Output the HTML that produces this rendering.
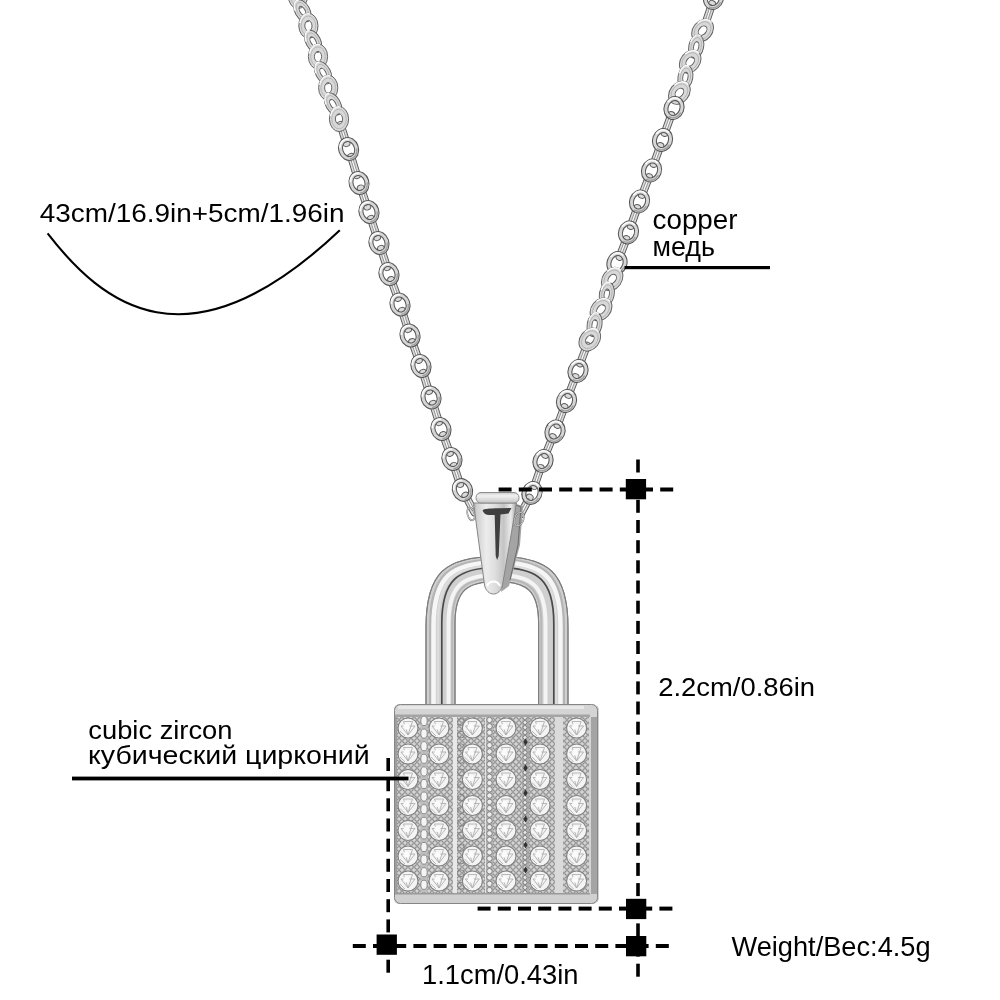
<!DOCTYPE html><html><head><meta charset="utf-8"><style>html,body{margin:0;padding:0;background:#fff;}svg{display:block;}</style></head><body><svg width="1000" height="1000" viewBox="0 0 1000 1000"><rect width="1000" height="1000" fill="#fff"/>
<defs>
<linearGradient id="bailg" x1="473" x2="517" y1="0" y2="0" gradientUnits="userSpaceOnUse">
 <stop offset="0" stop-color="#9a9a9a"/><stop offset="0.08" stop-color="#cfcfcf"/>
 <stop offset="0.3" stop-color="#ececec"/><stop offset="0.5" stop-color="#dedede"/>
 <stop offset="0.7" stop-color="#c4c4c4"/><stop offset="0.86" stop-color="#ececec"/>
 <stop offset="1" stop-color="#9a9a9a"/>
</linearGradient>
<linearGradient id="capg" x1="0" x2="0" y1="492" y2="503" gradientUnits="userSpaceOnUse">
 <stop offset="0" stop-color="#c8c8c8"/><stop offset="0.35" stop-color="#f2f2f2"/>
 <stop offset="1" stop-color="#c4c4c4"/>
</linearGradient>
<filter id="soft" x="-20%" y="-20%" width="140%" height="140%"><feGaussianBlur stdDeviation="0.6"/></filter>
</defs>
<path d="M426.0,705.0 L426.0,627.5 C426.0,572.1 445.9,556.5 497.0,556.5 C548.1,556.5 568.0,572.1 568.0,627.5 L568.0,705.0 L538.6,705.0 L538.6,623.3 C538.6,590.7 526.9,581.5 496.8,581.5 C466.7,581.5 455.0,590.7 455.0,623.3 L455.0,705.0 Z" fill="#cfcfcf" stroke="#858585" stroke-width="1.1"/>
<path d="M430.5,705.0 L430.5,626.5 C430.5,574.6 449.1,560.0 497.0,560.0 C544.9,560.0 563.5,574.6 563.5,626.5 L563.5,705.0" fill="none" stroke="#b4b4b4" stroke-width="3"/>
<path d="M433.5,705.0 L433.5,626.0 C433.5,576.5 451.3,562.5 497.0,562.5 C542.7,562.5 560.5,576.5 560.5,626.0 L560.5,705.0" fill="none" stroke="#f6f6f6" stroke-width="4.5"/>
<path d="M438.0,705.0 L438.0,624.5 C438.0,578.5 454.5,565.5 497.0,565.5 C539.5,565.5 556.0,578.5 556.0,624.5 L556.0,705.0" fill="none" stroke="#dcdcdc" stroke-width="2.5"/>
<path d="M448.5,705.0 L448.5,623.5 C448.5,585.7 462.1,575.0 497.0,575.0 C531.9,575.0 545.5,585.7 545.5,623.5 L545.5,705.0" fill="none" stroke="#f4f4f4" stroke-width="4"/>
<path d="M452.3,705.0 L452.3,623.0 C452.3,588.3 464.8,578.5 496.8,578.5 C528.8,578.5 541.3,588.3 541.3,623.0 L541.3,705.0" fill="none" stroke="#b8b8b8" stroke-width="2"/>
<path d="M441.8,705.0 L441.8,623.5 C441.8,579.8 457.5,567.5 497.8,567.5 C538.1,567.5 553.8,579.8 553.8,623.5 L553.8,705.0" fill="none" stroke="#4a4a4a" stroke-width="1.7"/>
<path d="M426.0,705.0 L426.0,627.5 C426.0,572.1 445.9,556.5 497.0,556.5 C548.1,556.5 568.0,572.1 568.0,627.5 L568.0,705.0 L538.6,705.0 L538.6,623.3 C538.6,590.7 526.9,581.5 496.8,581.5 C466.7,581.5 455.0,590.7 455.0,623.3 L455.0,705.0 Z" fill="none" stroke="#7e7e7e" stroke-width="1.1"/>
<g transform="translate(343.5,134.0) rotate(-17.7)"><rect x="-3.6" y="-13" width="7.2" height="26" rx="3.5" fill="#dadada" stroke="#5a5a5a" stroke-width="0.95"/><rect x="-1.1" y="-8.5" width="2.2" height="17" rx="1.1" fill="#fafafa" stroke="#7a7a7a" stroke-width="0.7"/></g><g transform="translate(354.0,166.0) rotate(-17.0)"><rect x="-3.6" y="-13" width="7.2" height="26" rx="3.5" fill="#dadada" stroke="#5a5a5a" stroke-width="0.95"/><rect x="-1.1" y="-8.5" width="2.2" height="17" rx="1.1" fill="#fafafa" stroke="#7a7a7a" stroke-width="0.7"/></g><g transform="translate(364.0,197.5) rotate(-19.0)"><rect x="-3.6" y="-13" width="7.2" height="26" rx="3.5" fill="#dadada" stroke="#5a5a5a" stroke-width="0.95"/><rect x="-1.1" y="-8.5" width="2.2" height="17" rx="1.1" fill="#fafafa" stroke="#7a7a7a" stroke-width="0.7"/></g><g transform="translate(374.0,228.0) rotate(-17.9)"><rect x="-3.6" y="-13" width="7.2" height="26" rx="3.5" fill="#dadada" stroke="#5a5a5a" stroke-width="0.95"/><rect x="-1.1" y="-8.5" width="2.2" height="17" rx="1.1" fill="#fafafa" stroke="#7a7a7a" stroke-width="0.7"/></g><g transform="translate(384.0,258.0) rotate(-17.9)"><rect x="-3.6" y="-13" width="7.2" height="26" rx="3.5" fill="#dadada" stroke="#5a5a5a" stroke-width="0.95"/><rect x="-1.1" y="-8.5" width="2.2" height="17" rx="1.1" fill="#fafafa" stroke="#7a7a7a" stroke-width="0.7"/></g><g transform="translate(394.5,289.0) rotate(-19.8)"><rect x="-3.6" y="-13" width="7.2" height="26" rx="3.5" fill="#dadada" stroke="#5a5a5a" stroke-width="0.95"/><rect x="-1.1" y="-8.5" width="2.2" height="17" rx="1.1" fill="#fafafa" stroke="#7a7a7a" stroke-width="0.7"/></g><g transform="translate(405.0,320.0) rotate(-17.9)"><rect x="-3.6" y="-13" width="7.2" height="26" rx="3.5" fill="#dadada" stroke="#5a5a5a" stroke-width="0.95"/><rect x="-1.1" y="-8.5" width="2.2" height="17" rx="1.1" fill="#fafafa" stroke="#7a7a7a" stroke-width="0.7"/></g><g transform="translate(415.5,351.0) rotate(-19.8)"><rect x="-3.6" y="-13" width="7.2" height="26" rx="3.5" fill="#dadada" stroke="#5a5a5a" stroke-width="0.95"/><rect x="-1.1" y="-8.5" width="2.2" height="17" rx="1.1" fill="#fafafa" stroke="#7a7a7a" stroke-width="0.7"/></g><g transform="translate(426.0,382.0) rotate(-17.6)"><rect x="-3.6" y="-13" width="7.2" height="26" rx="3.5" fill="#dadada" stroke="#5a5a5a" stroke-width="0.95"/><rect x="-1.1" y="-8.5" width="2.2" height="17" rx="1.1" fill="#fafafa" stroke="#7a7a7a" stroke-width="0.7"/></g><g transform="translate(436.0,413.0) rotate(-17.6)"><rect x="-3.6" y="-13" width="7.2" height="26" rx="3.5" fill="#dadada" stroke="#5a5a5a" stroke-width="0.95"/><rect x="-1.1" y="-8.5" width="2.2" height="17" rx="1.1" fill="#fafafa" stroke="#7a7a7a" stroke-width="0.7"/></g><g transform="translate(446.5,444.0) rotate(-20.1)"><rect x="-3.6" y="-13" width="7.2" height="26" rx="3.5" fill="#dadada" stroke="#5a5a5a" stroke-width="0.95"/><rect x="-1.1" y="-8.5" width="2.2" height="17" rx="1.1" fill="#fafafa" stroke="#7a7a7a" stroke-width="0.7"/></g><g transform="translate(457.0,475.0) rotate(-18.7)"><rect x="-3.6" y="-13" width="7.2" height="26" rx="3.5" fill="#dadada" stroke="#5a5a5a" stroke-width="0.95"/><rect x="-1.1" y="-8.5" width="2.2" height="17" rx="1.1" fill="#fafafa" stroke="#7a7a7a" stroke-width="0.7"/></g><g transform="translate(470.0,504.0) rotate(-28.2)"><rect x="-3.6" y="-13" width="7.2" height="26" rx="3.5" fill="#dadada" stroke="#5a5a5a" stroke-width="0.95"/><rect x="-1.1" y="-8.5" width="2.2" height="17" rx="1.1" fill="#fafafa" stroke="#7a7a7a" stroke-width="0.7"/></g><g transform="translate(298.0,-4.0) rotate(-16.6)"><g transform="rotate(18)"><path d="M-9.60,0.00 a9.6,12.6 0 1,0 19.20,0 a9.6,12.6 0 1,0 -19.20,0 Z M-3.60,0.00 a3.6,5.2 0 1,0 7.20,0 a3.6,5.2 0 1,0 -7.20,0 Z " fill="#d8d8d8" fill-rule="evenodd" stroke="#5e5e5e" stroke-width="0.95"/><path d="M-7.30,0.00 a7.3,9.8 0 1,0 14.60,0 a7.3,9.8 0 1,0 -14.60,0 Z " fill="none" stroke="#a0a0a0" stroke-width="0.6"/><path d="M-8.6,-3 A8.6,11.6 0 0,1 2,-11.799999999999999" stroke="#fafafa" stroke-width="1.4" fill="none"/></g></g><g transform="translate(302.4,10.8) rotate(-19.2)"><g transform="rotate(-10)"><path d="M-7.40,0.00 a7.4,12.0 0 1,0 14.80,0 a7.4,12.0 0 1,0 -14.80,0 Z M-2.60,0.00 a2.6,5.0 0 1,0 5.20,0 a2.6,5.0 0 1,0 -5.20,0 Z " fill="#d8d8d8" fill-rule="evenodd" stroke="#5e5e5e" stroke-width="0.95"/><path d="M-5.10,0.00 a5.1000000000000005,9.2 0 1,0 10.20,0 a5.1000000000000005,9.2 0 1,0 -10.20,0 Z " fill="none" stroke="#a0a0a0" stroke-width="0.6"/><path d="M-6.4,-3 A6.4,11.0 0 0,1 2,-11.2" stroke="#fafafa" stroke-width="1.4" fill="none"/></g></g><g transform="translate(308.4,25.8) rotate(-19.4)"><g transform="rotate(18)"><path d="M-9.60,0.00 a9.6,12.6 0 1,0 19.20,0 a9.6,12.6 0 1,0 -19.20,0 Z M-3.60,0.00 a3.6,5.2 0 1,0 7.20,0 a3.6,5.2 0 1,0 -7.20,0 Z " fill="#d8d8d8" fill-rule="evenodd" stroke="#5e5e5e" stroke-width="0.95"/><path d="M-7.30,0.00 a7.3,9.8 0 1,0 14.60,0 a7.3,9.8 0 1,0 -14.60,0 Z " fill="none" stroke="#a0a0a0" stroke-width="0.6"/><path d="M-8.6,-3 A8.6,11.6 0 0,1 2,-11.799999999999999" stroke="#fafafa" stroke-width="1.4" fill="none"/></g></g><g transform="translate(313.2,41.4) rotate(-17.3)"><g transform="rotate(-10)"><path d="M-7.40,0.00 a7.4,12.0 0 1,0 14.80,0 a7.4,12.0 0 1,0 -14.80,0 Z M-2.60,0.00 a2.6,5.0 0 1,0 5.20,0 a2.6,5.0 0 1,0 -5.20,0 Z " fill="#d8d8d8" fill-rule="evenodd" stroke="#5e5e5e" stroke-width="0.95"/><path d="M-5.10,0.00 a5.1000000000000005,9.2 0 1,0 10.20,0 a5.1000000000000005,9.2 0 1,0 -10.20,0 Z " fill="none" stroke="#a0a0a0" stroke-width="0.6"/><path d="M-6.4,-3 A6.4,11.0 0 0,1 2,-11.2" stroke="#fafafa" stroke-width="1.4" fill="none"/></g></g><g transform="translate(318.0,56.6) rotate(-17.5)"><g transform="rotate(18)"><path d="M-9.60,0.00 a9.6,12.6 0 1,0 19.20,0 a9.6,12.6 0 1,0 -19.20,0 Z M-3.60,0.00 a3.6,5.2 0 1,0 7.20,0 a3.6,5.2 0 1,0 -7.20,0 Z " fill="#d8d8d8" fill-rule="evenodd" stroke="#5e5e5e" stroke-width="0.95"/><path d="M-7.30,0.00 a7.3,9.8 0 1,0 14.60,0 a7.3,9.8 0 1,0 -14.60,0 Z " fill="none" stroke="#a0a0a0" stroke-width="0.6"/><path d="M-8.6,-3 A8.6,11.6 0 0,1 2,-11.799999999999999" stroke="#fafafa" stroke-width="1.4" fill="none"/></g></g><g transform="translate(323.1,72.8) rotate(-18.1)"><g transform="rotate(-10)"><path d="M-7.40,0.00 a7.4,12.0 0 1,0 14.80,0 a7.4,12.0 0 1,0 -14.80,0 Z M-2.60,0.00 a2.6,5.0 0 1,0 5.20,0 a2.6,5.0 0 1,0 -5.20,0 Z " fill="#d8d8d8" fill-rule="evenodd" stroke="#5e5e5e" stroke-width="0.95"/><path d="M-5.10,0.00 a5.1000000000000005,9.2 0 1,0 10.20,0 a5.1000000000000005,9.2 0 1,0 -10.20,0 Z " fill="none" stroke="#a0a0a0" stroke-width="0.6"/><path d="M-6.4,-3 A6.4,11.0 0 0,1 2,-11.2" stroke="#fafafa" stroke-width="1.4" fill="none"/></g></g><g transform="translate(328.2,87.8) rotate(-17.6)"><g transform="rotate(18)"><path d="M-9.60,0.00 a9.6,12.6 0 1,0 19.20,0 a9.6,12.6 0 1,0 -19.20,0 Z M-3.60,0.00 a3.6,5.2 0 1,0 7.20,0 a3.6,5.2 0 1,0 -7.20,0 Z " fill="#d8d8d8" fill-rule="evenodd" stroke="#5e5e5e" stroke-width="0.95"/><path d="M-7.30,0.00 a7.3,9.8 0 1,0 14.60,0 a7.3,9.8 0 1,0 -14.60,0 Z " fill="none" stroke="#a0a0a0" stroke-width="0.6"/><path d="M-8.6,-3 A8.6,11.6 0 0,1 2,-11.799999999999999" stroke="#fafafa" stroke-width="1.4" fill="none"/></g></g><g transform="translate(333.0,104.0) rotate(-19.1)"><g transform="rotate(-10)"><path d="M-7.40,0.00 a7.4,12.0 0 1,0 14.80,0 a7.4,12.0 0 1,0 -14.80,0 Z M-2.60,0.00 a2.6,5.0 0 1,0 5.20,0 a2.6,5.0 0 1,0 -5.20,0 Z " fill="#d8d8d8" fill-rule="evenodd" stroke="#5e5e5e" stroke-width="0.95"/><path d="M-5.10,0.00 a5.1000000000000005,9.2 0 1,0 10.20,0 a5.1000000000000005,9.2 0 1,0 -10.20,0 Z " fill="none" stroke="#a0a0a0" stroke-width="0.6"/><path d="M-6.4,-3 A6.4,11.0 0 0,1 2,-11.2" stroke="#fafafa" stroke-width="1.4" fill="none"/></g></g><g transform="translate(339.0,119.0) rotate(-19.3)"><g transform="rotate(18)"><path d="M-9.60,0.00 a9.6,12.6 0 1,0 19.20,0 a9.6,12.6 0 1,0 -19.20,0 Z M-3.60,0.00 a3.6,5.2 0 1,0 7.20,0 a3.6,5.2 0 1,0 -7.20,0 Z " fill="#d8d8d8" fill-rule="evenodd" stroke="#5e5e5e" stroke-width="0.95"/><path d="M-7.30,0.00 a7.3,9.8 0 1,0 14.60,0 a7.3,9.8 0 1,0 -14.60,0 Z " fill="none" stroke="#a0a0a0" stroke-width="0.6"/><path d="M-8.6,-3 A8.6,11.6 0 0,1 2,-11.799999999999999" stroke="#fafafa" stroke-width="1.4" fill="none"/></g></g><g transform="translate(348.6,149.0) rotate(-18.2)"><path d="M-9.90,0.00 a9.9,11.6 0 1,0 19.80,0 a9.9,11.6 0 1,0 -19.80,0 Z M-5.90,0.00 a5.9,7.7 0 1,0 11.80,0 a5.9,7.7 0 1,0 -11.80,0 Z " fill="#d6d6d6" fill-rule="evenodd" stroke="#555555" stroke-width="1.05"/><path d="M-7.9,-3.5 A7.9,9.6 0 0,1 3.3,-9.1" stroke="#fafafa" stroke-width="1.7" fill="none"/><path d="M8.0,2 A8.0,9.6 0 0,1 -2,9.7" stroke="#a0a0a0" stroke-width="1.4" fill="none"/></g><g transform="translate(359.0,183.0) rotate(-17.6)"><path d="M-9.90,0.00 a9.9,11.6 0 1,0 19.80,0 a9.9,11.6 0 1,0 -19.80,0 Z M-5.90,0.00 a5.9,7.7 0 1,0 11.80,0 a5.9,7.7 0 1,0 -11.80,0 Z " fill="#d6d6d6" fill-rule="evenodd" stroke="#555555" stroke-width="1.05"/><path d="M-7.9,-3.5 A7.9,9.6 0 0,1 3.3,-9.1" stroke="#fafafa" stroke-width="1.7" fill="none"/><path d="M8.0,2 A8.0,9.6 0 0,1 -2,9.7" stroke="#a0a0a0" stroke-width="1.4" fill="none"/></g><g transform="translate(369.0,212.0) rotate(-18.2)"><path d="M-9.90,0.00 a9.9,11.6 0 1,0 19.80,0 a9.9,11.6 0 1,0 -19.80,0 Z M-5.90,0.00 a5.9,7.7 0 1,0 11.80,0 a5.9,7.7 0 1,0 -11.80,0 Z " fill="#d6d6d6" fill-rule="evenodd" stroke="#555555" stroke-width="1.05"/><path d="M-7.9,-3.5 A7.9,9.6 0 0,1 3.3,-9.1" stroke="#fafafa" stroke-width="1.7" fill="none"/><path d="M8.0,2 A8.0,9.6 0 0,1 -2,9.7" stroke="#a0a0a0" stroke-width="1.4" fill="none"/></g><g transform="translate(379.0,243.0) rotate(-18.4)"><path d="M-9.90,0.00 a9.9,11.6 0 1,0 19.80,0 a9.9,11.6 0 1,0 -19.80,0 Z M-5.90,0.00 a5.9,7.7 0 1,0 11.80,0 a5.9,7.7 0 1,0 -11.80,0 Z " fill="#d6d6d6" fill-rule="evenodd" stroke="#555555" stroke-width="1.05"/><path d="M-7.9,-3.5 A7.9,9.6 0 0,1 3.3,-9.1" stroke="#fafafa" stroke-width="1.7" fill="none"/><path d="M8.0,2 A8.0,9.6 0 0,1 -2,9.7" stroke="#a0a0a0" stroke-width="1.4" fill="none"/></g><g transform="translate(389.0,274.0) rotate(-18.7)"><path d="M-9.90,0.00 a9.9,11.6 0 1,0 19.80,0 a9.9,11.6 0 1,0 -19.80,0 Z M-5.90,0.00 a5.9,7.7 0 1,0 11.80,0 a5.9,7.7 0 1,0 -11.80,0 Z " fill="#d6d6d6" fill-rule="evenodd" stroke="#555555" stroke-width="1.05"/><path d="M-7.9,-3.5 A7.9,9.6 0 0,1 3.3,-9.1" stroke="#fafafa" stroke-width="1.7" fill="none"/><path d="M8.0,2 A8.0,9.6 0 0,1 -2,9.7" stroke="#a0a0a0" stroke-width="1.4" fill="none"/></g><g transform="translate(400.0,304.5) rotate(-18.7)"><path d="M-9.90,0.00 a9.9,11.6 0 1,0 19.80,0 a9.9,11.6 0 1,0 -19.80,0 Z M-5.90,0.00 a5.9,7.7 0 1,0 11.80,0 a5.9,7.7 0 1,0 -11.80,0 Z " fill="#d6d6d6" fill-rule="evenodd" stroke="#555555" stroke-width="1.05"/><path d="M-7.9,-3.5 A7.9,9.6 0 0,1 3.3,-9.1" stroke="#fafafa" stroke-width="1.7" fill="none"/><path d="M8.0,2 A8.0,9.6 0 0,1 -2,9.7" stroke="#a0a0a0" stroke-width="1.4" fill="none"/></g><g transform="translate(410.0,335.5) rotate(-18.7)"><path d="M-9.90,0.00 a9.9,11.6 0 1,0 19.80,0 a9.9,11.6 0 1,0 -19.80,0 Z M-5.90,0.00 a5.9,7.7 0 1,0 11.80,0 a5.9,7.7 0 1,0 -11.80,0 Z " fill="#d6d6d6" fill-rule="evenodd" stroke="#555555" stroke-width="1.05"/><path d="M-7.9,-3.5 A7.9,9.6 0 0,1 3.3,-9.1" stroke="#fafafa" stroke-width="1.7" fill="none"/><path d="M8.0,2 A8.0,9.6 0 0,1 -2,9.7" stroke="#a0a0a0" stroke-width="1.4" fill="none"/></g><g transform="translate(421.0,366.0) rotate(-18.7)"><path d="M-9.90,0.00 a9.9,11.6 0 1,0 19.80,0 a9.9,11.6 0 1,0 -19.80,0 Z M-5.90,0.00 a5.9,7.7 0 1,0 11.80,0 a5.9,7.7 0 1,0 -11.80,0 Z " fill="#d6d6d6" fill-rule="evenodd" stroke="#555555" stroke-width="1.05"/><path d="M-7.9,-3.5 A7.9,9.6 0 0,1 3.3,-9.1" stroke="#fafafa" stroke-width="1.7" fill="none"/><path d="M8.0,2 A8.0,9.6 0 0,1 -2,9.7" stroke="#a0a0a0" stroke-width="1.4" fill="none"/></g><g transform="translate(431.0,397.5) rotate(-17.9)"><path d="M-9.90,0.00 a9.9,11.6 0 1,0 19.80,0 a9.9,11.6 0 1,0 -19.80,0 Z M-5.90,0.00 a5.9,7.7 0 1,0 11.80,0 a5.9,7.7 0 1,0 -11.80,0 Z " fill="#d6d6d6" fill-rule="evenodd" stroke="#555555" stroke-width="1.05"/><path d="M-7.9,-3.5 A7.9,9.6 0 0,1 3.3,-9.1" stroke="#fafafa" stroke-width="1.7" fill="none"/><path d="M8.0,2 A8.0,9.6 0 0,1 -2,9.7" stroke="#a0a0a0" stroke-width="1.4" fill="none"/></g><g transform="translate(441.0,429.0) rotate(-18.7)"><path d="M-9.90,0.00 a9.9,11.6 0 1,0 19.80,0 a9.9,11.6 0 1,0 -19.80,0 Z M-5.90,0.00 a5.9,7.7 0 1,0 11.80,0 a5.9,7.7 0 1,0 -11.80,0 Z " fill="#d6d6d6" fill-rule="evenodd" stroke="#555555" stroke-width="1.05"/><path d="M-7.9,-3.5 A7.9,9.6 0 0,1 3.3,-9.1" stroke="#fafafa" stroke-width="1.7" fill="none"/><path d="M8.0,2 A8.0,9.6 0 0,1 -2,9.7" stroke="#a0a0a0" stroke-width="1.4" fill="none"/></g><g transform="translate(452.0,459.0) rotate(-18.7)"><path d="M-9.90,0.00 a9.9,11.6 0 1,0 19.80,0 a9.9,11.6 0 1,0 -19.80,0 Z M-5.90,0.00 a5.9,7.7 0 1,0 11.80,0 a5.9,7.7 0 1,0 -11.80,0 Z " fill="#d6d6d6" fill-rule="evenodd" stroke="#555555" stroke-width="1.05"/><path d="M-7.9,-3.5 A7.9,9.6 0 0,1 3.3,-9.1" stroke="#fafafa" stroke-width="1.7" fill="none"/><path d="M8.0,2 A8.0,9.6 0 0,1 -2,9.7" stroke="#a0a0a0" stroke-width="1.4" fill="none"/></g><g transform="translate(462.5,490.0) rotate(-24.1)"><path d="M-9.90,0.00 a9.9,11.6 0 1,0 19.80,0 a9.9,11.6 0 1,0 -19.80,0 Z M-5.90,0.00 a5.9,7.7 0 1,0 11.80,0 a5.9,7.7 0 1,0 -11.80,0 Z " fill="#d6d6d6" fill-rule="evenodd" stroke="#555555" stroke-width="1.05"/><path d="M-7.9,-3.5 A7.9,9.6 0 0,1 3.3,-9.1" stroke="#fafafa" stroke-width="1.7" fill="none"/><path d="M8.0,2 A8.0,9.6 0 0,1 -2,9.7" stroke="#a0a0a0" stroke-width="1.4" fill="none"/></g><g transform="translate(709.0,13.0) rotate(18.5)"><rect x="-3.6" y="-13" width="7.2" height="26" rx="3.5" fill="#dadada" stroke="#5a5a5a" stroke-width="0.95"/><rect x="-1.1" y="-8.5" width="2.2" height="17" rx="1.1" fill="#fafafa" stroke="#7a7a7a" stroke-width="0.7"/></g><g transform="translate(668.0,124.0) rotate(19.8)"><rect x="-3.6" y="-13" width="7.2" height="26" rx="3.5" fill="#dadada" stroke="#5a5a5a" stroke-width="0.95"/><rect x="-1.1" y="-8.5" width="2.2" height="17" rx="1.1" fill="#fafafa" stroke="#7a7a7a" stroke-width="0.7"/></g><g transform="translate(657.0,155.0) rotate(19.8)"><rect x="-3.6" y="-13" width="7.2" height="26" rx="3.5" fill="#dadada" stroke="#5a5a5a" stroke-width="0.95"/><rect x="-1.1" y="-8.5" width="2.2" height="17" rx="1.1" fill="#fafafa" stroke="#7a7a7a" stroke-width="0.7"/></g><g transform="translate(645.5,186.0) rotate(21.2)"><rect x="-3.6" y="-13" width="7.2" height="26" rx="3.5" fill="#dadada" stroke="#5a5a5a" stroke-width="0.95"/><rect x="-1.1" y="-8.5" width="2.2" height="17" rx="1.1" fill="#fafafa" stroke="#7a7a7a" stroke-width="0.7"/></g><g transform="translate(634.0,217.0) rotate(19.5)"><rect x="-3.6" y="-13" width="7.2" height="26" rx="3.5" fill="#dadada" stroke="#5a5a5a" stroke-width="0.95"/><rect x="-1.1" y="-8.5" width="2.2" height="17" rx="1.1" fill="#fafafa" stroke="#7a7a7a" stroke-width="0.7"/></g><g transform="translate(623.0,248.0) rotate(20.7)"><rect x="-3.6" y="-13" width="7.2" height="26" rx="3.5" fill="#dadada" stroke="#5a5a5a" stroke-width="0.95"/><rect x="-1.1" y="-8.5" width="2.2" height="17" rx="1.1" fill="#fafafa" stroke="#7a7a7a" stroke-width="0.7"/></g><g transform="translate(583.5,354.5) rotate(20.6)"><rect x="-3.6" y="-13" width="7.2" height="26" rx="3.5" fill="#dadada" stroke="#5a5a5a" stroke-width="0.95"/><rect x="-1.1" y="-8.5" width="2.2" height="17" rx="1.1" fill="#fafafa" stroke="#7a7a7a" stroke-width="0.7"/></g><g transform="translate(572.0,386.0) rotate(21.0)"><rect x="-3.6" y="-13" width="7.2" height="26" rx="3.5" fill="#dadada" stroke="#5a5a5a" stroke-width="0.95"/><rect x="-1.1" y="-8.5" width="2.2" height="17" rx="1.1" fill="#fafafa" stroke="#7a7a7a" stroke-width="0.7"/></g><g transform="translate(561.0,416.0) rotate(20.7)"><rect x="-3.6" y="-13" width="7.2" height="26" rx="3.5" fill="#dadada" stroke="#5a5a5a" stroke-width="0.95"/><rect x="-1.1" y="-8.5" width="2.2" height="17" rx="1.1" fill="#fafafa" stroke="#7a7a7a" stroke-width="0.7"/></g><g transform="translate(549.0,446.0) rotate(22.1)"><rect x="-3.6" y="-13" width="7.2" height="26" rx="3.5" fill="#dadada" stroke="#5a5a5a" stroke-width="0.95"/><rect x="-1.1" y="-8.5" width="2.2" height="17" rx="1.1" fill="#fafafa" stroke="#7a7a7a" stroke-width="0.7"/></g><g transform="translate(537.5,477.0) rotate(19.0)"><rect x="-3.6" y="-13" width="7.2" height="26" rx="3.5" fill="#dadada" stroke="#5a5a5a" stroke-width="0.95"/><rect x="-1.1" y="-8.5" width="2.2" height="17" rx="1.1" fill="#fafafa" stroke="#7a7a7a" stroke-width="0.7"/></g><g transform="translate(525.0,506.0) rotate(28.3)"><rect x="-3.6" y="-13" width="7.2" height="26" rx="3.5" fill="#dadada" stroke="#5a5a5a" stroke-width="0.95"/><rect x="-1.1" y="-8.5" width="2.2" height="17" rx="1.1" fill="#fafafa" stroke="#7a7a7a" stroke-width="0.7"/></g><g transform="translate(713.5,-2.0) rotate(16.7)"><path d="M-9.90,0.00 a9.9,11.6 0 1,0 19.80,0 a9.9,11.6 0 1,0 -19.80,0 Z M-5.90,0.00 a5.9,7.7 0 1,0 11.80,0 a5.9,7.7 0 1,0 -11.80,0 Z " fill="#d6d6d6" fill-rule="evenodd" stroke="#555555" stroke-width="1.05"/><path d="M-7.9,-3.5 A7.9,9.6 0 0,1 3.3,-9.1" stroke="#fafafa" stroke-width="1.7" fill="none"/><path d="M8.0,2 A8.0,9.6 0 0,1 -2,9.7" stroke="#a0a0a0" stroke-width="1.4" fill="none"/></g><g transform="translate(702.6,30.6) rotate(20.9)"><g transform="rotate(18)"><path d="M-9.60,0.00 a9.6,12.6 0 1,0 19.20,0 a9.6,12.6 0 1,0 -19.20,0 Z M-3.60,0.00 a3.6,5.2 0 1,0 7.20,0 a3.6,5.2 0 1,0 -7.20,0 Z " fill="#d8d8d8" fill-rule="evenodd" stroke="#5e5e5e" stroke-width="0.95"/><path d="M-7.30,0.00 a7.3,9.8 0 1,0 14.60,0 a7.3,9.8 0 1,0 -14.60,0 Z " fill="none" stroke="#a0a0a0" stroke-width="0.6"/><path d="M-8.6,-3 A8.6,11.6 0 0,1 2,-11.799999999999999" stroke="#fafafa" stroke-width="1.4" fill="none"/></g></g><g transform="translate(696.2,46.6) rotate(21.8)"><g transform="rotate(-10)"><path d="M-7.40,0.00 a7.4,12.0 0 1,0 14.80,0 a7.4,12.0 0 1,0 -14.80,0 Z M-2.60,0.00 a2.6,5.0 0 1,0 5.20,0 a2.6,5.0 0 1,0 -5.20,0 Z " fill="#d8d8d8" fill-rule="evenodd" stroke="#5e5e5e" stroke-width="0.95"/><path d="M-5.10,0.00 a5.1000000000000005,9.2 0 1,0 10.20,0 a5.1000000000000005,9.2 0 1,0 -10.20,0 Z " fill="none" stroke="#a0a0a0" stroke-width="0.6"/><path d="M-6.4,-3 A6.4,11.0 0 0,1 2,-11.2" stroke="#fafafa" stroke-width="1.4" fill="none"/></g></g><g transform="translate(690.2,61.6) rotate(19.4)"><g transform="rotate(18)"><path d="M-9.60,0.00 a9.6,12.6 0 1,0 19.20,0 a9.6,12.6 0 1,0 -19.20,0 Z M-3.60,0.00 a3.6,5.2 0 1,0 7.20,0 a3.6,5.2 0 1,0 -7.20,0 Z " fill="#d8d8d8" fill-rule="evenodd" stroke="#5e5e5e" stroke-width="0.95"/><path d="M-7.30,0.00 a7.3,9.8 0 1,0 14.60,0 a7.3,9.8 0 1,0 -14.60,0 Z " fill="none" stroke="#a0a0a0" stroke-width="0.6"/><path d="M-8.6,-3 A8.6,11.6 0 0,1 2,-11.799999999999999" stroke="#fafafa" stroke-width="1.4" fill="none"/></g></g><g transform="translate(685.4,77.2) rotate(19.1)"><g transform="rotate(-10)"><path d="M-7.40,0.00 a7.4,12.0 0 1,0 14.80,0 a7.4,12.0 0 1,0 -14.80,0 Z M-2.60,0.00 a2.6,5.0 0 1,0 5.20,0 a2.6,5.0 0 1,0 -5.20,0 Z " fill="#d8d8d8" fill-rule="evenodd" stroke="#5e5e5e" stroke-width="0.95"/><path d="M-5.10,0.00 a5.1000000000000005,9.2 0 1,0 10.20,0 a5.1000000000000005,9.2 0 1,0 -10.20,0 Z " fill="none" stroke="#a0a0a0" stroke-width="0.6"/><path d="M-6.4,-3 A6.4,11.0 0 0,1 2,-11.2" stroke="#fafafa" stroke-width="1.4" fill="none"/></g></g><g transform="translate(679.4,92.8) rotate(20.3)"><g transform="rotate(18)"><path d="M-9.60,0.00 a9.6,12.6 0 1,0 19.20,0 a9.6,12.6 0 1,0 -19.20,0 Z M-3.60,0.00 a3.6,5.2 0 1,0 7.20,0 a3.6,5.2 0 1,0 -7.20,0 Z " fill="#d8d8d8" fill-rule="evenodd" stroke="#5e5e5e" stroke-width="0.95"/><path d="M-7.30,0.00 a7.3,9.8 0 1,0 14.60,0 a7.3,9.8 0 1,0 -14.60,0 Z " fill="none" stroke="#a0a0a0" stroke-width="0.6"/><path d="M-8.6,-3 A8.6,11.6 0 0,1 2,-11.799999999999999" stroke="#fafafa" stroke-width="1.4" fill="none"/></g></g><g transform="translate(674.0,108.0) rotate(20.1)"><path d="M-9.90,0.00 a9.9,11.6 0 1,0 19.80,0 a9.9,11.6 0 1,0 -19.80,0 Z M-5.90,0.00 a5.9,7.7 0 1,0 11.80,0 a5.9,7.7 0 1,0 -11.80,0 Z " fill="#d6d6d6" fill-rule="evenodd" stroke="#555555" stroke-width="1.05"/><path d="M-7.9,-3.5 A7.9,9.6 0 0,1 3.3,-9.1" stroke="#fafafa" stroke-width="1.7" fill="none"/><path d="M8.0,2 A8.0,9.6 0 0,1 -2,9.7" stroke="#a0a0a0" stroke-width="1.4" fill="none"/></g><g transform="translate(662.5,140.0) rotate(19.5)"><path d="M-9.90,0.00 a9.9,11.6 0 1,0 19.80,0 a9.9,11.6 0 1,0 -19.80,0 Z M-5.90,0.00 a5.9,7.7 0 1,0 11.80,0 a5.9,7.7 0 1,0 -11.80,0 Z " fill="#d6d6d6" fill-rule="evenodd" stroke="#555555" stroke-width="1.05"/><path d="M-7.9,-3.5 A7.9,9.6 0 0,1 3.3,-9.1" stroke="#fafafa" stroke-width="1.7" fill="none"/><path d="M8.0,2 A8.0,9.6 0 0,1 -2,9.7" stroke="#a0a0a0" stroke-width="1.4" fill="none"/></g><g transform="translate(651.5,170.5) rotate(20.4)"><path d="M-9.90,0.00 a9.9,11.6 0 1,0 19.80,0 a9.9,11.6 0 1,0 -19.80,0 Z M-5.90,0.00 a5.9,7.7 0 1,0 11.80,0 a5.9,7.7 0 1,0 -11.80,0 Z " fill="#d6d6d6" fill-rule="evenodd" stroke="#555555" stroke-width="1.05"/><path d="M-7.9,-3.5 A7.9,9.6 0 0,1 3.3,-9.1" stroke="#fafafa" stroke-width="1.7" fill="none"/><path d="M8.0,2 A8.0,9.6 0 0,1 -2,9.7" stroke="#a0a0a0" stroke-width="1.4" fill="none"/></g><g transform="translate(639.5,201.5) rotate(20.4)"><path d="M-9.90,0.00 a9.9,11.6 0 1,0 19.80,0 a9.9,11.6 0 1,0 -19.80,0 Z M-5.90,0.00 a5.9,7.7 0 1,0 11.80,0 a5.9,7.7 0 1,0 -11.80,0 Z " fill="#d6d6d6" fill-rule="evenodd" stroke="#555555" stroke-width="1.05"/><path d="M-7.9,-3.5 A7.9,9.6 0 0,1 3.3,-9.1" stroke="#fafafa" stroke-width="1.7" fill="none"/><path d="M8.0,2 A8.0,9.6 0 0,1 -2,9.7" stroke="#a0a0a0" stroke-width="1.4" fill="none"/></g><g transform="translate(628.5,232.5) rotate(19.5)"><path d="M-9.90,0.00 a9.9,11.6 0 1,0 19.80,0 a9.9,11.6 0 1,0 -19.80,0 Z M-5.90,0.00 a5.9,7.7 0 1,0 11.80,0 a5.9,7.7 0 1,0 -11.80,0 Z " fill="#d6d6d6" fill-rule="evenodd" stroke="#555555" stroke-width="1.05"/><path d="M-7.9,-3.5 A7.9,9.6 0 0,1 3.3,-9.1" stroke="#fafafa" stroke-width="1.7" fill="none"/><path d="M8.0,2 A8.0,9.6 0 0,1 -2,9.7" stroke="#a0a0a0" stroke-width="1.4" fill="none"/></g><g transform="translate(617.0,263.0) rotate(19.2)"><path d="M-9.90,0.00 a9.9,11.6 0 1,0 19.80,0 a9.9,11.6 0 1,0 -19.80,0 Z M-5.90,0.00 a5.9,7.7 0 1,0 11.80,0 a5.9,7.7 0 1,0 -11.80,0 Z " fill="#d6d6d6" fill-rule="evenodd" stroke="#555555" stroke-width="1.05"/><path d="M-7.9,-3.5 A7.9,9.6 0 0,1 3.3,-9.1" stroke="#fafafa" stroke-width="1.7" fill="none"/><path d="M8.0,2 A8.0,9.6 0 0,1 -2,9.7" stroke="#a0a0a0" stroke-width="1.4" fill="none"/></g><g transform="translate(612.2,279.0) rotate(18.2)"><g transform="rotate(18)"><path d="M-9.60,0.00 a9.6,12.6 0 1,0 19.20,0 a9.6,12.6 0 1,0 -19.20,0 Z M-3.60,0.00 a3.6,5.2 0 1,0 7.20,0 a3.6,5.2 0 1,0 -7.20,0 Z " fill="#d8d8d8" fill-rule="evenodd" stroke="#5e5e5e" stroke-width="0.95"/><path d="M-7.30,0.00 a7.3,9.8 0 1,0 14.60,0 a7.3,9.8 0 1,0 -14.60,0 Z " fill="none" stroke="#a0a0a0" stroke-width="0.6"/><path d="M-8.6,-3 A8.6,11.6 0 0,1 2,-11.799999999999999" stroke="#fafafa" stroke-width="1.4" fill="none"/></g></g><g transform="translate(606.8,294.0) rotate(20.2)"><g transform="rotate(-10)"><path d="M-7.40,0.00 a7.4,12.0 0 1,0 14.80,0 a7.4,12.0 0 1,0 -14.80,0 Z M-2.60,0.00 a2.6,5.0 0 1,0 5.20,0 a2.6,5.0 0 1,0 -5.20,0 Z " fill="#d8d8d8" fill-rule="evenodd" stroke="#5e5e5e" stroke-width="0.95"/><path d="M-5.10,0.00 a5.1000000000000005,9.2 0 1,0 10.20,0 a5.1000000000000005,9.2 0 1,0 -10.20,0 Z " fill="none" stroke="#a0a0a0" stroke-width="0.6"/><path d="M-6.4,-3 A6.4,11.0 0 0,1 2,-11.2" stroke="#fafafa" stroke-width="1.4" fill="none"/></g></g><g transform="translate(601.0,309.4) rotate(21.7)"><g transform="rotate(18)"><path d="M-9.60,0.00 a9.6,12.6 0 1,0 19.20,0 a9.6,12.6 0 1,0 -19.20,0 Z M-3.60,0.00 a3.6,5.2 0 1,0 7.20,0 a3.6,5.2 0 1,0 -7.20,0 Z " fill="#d8d8d8" fill-rule="evenodd" stroke="#5e5e5e" stroke-width="0.95"/><path d="M-7.30,0.00 a7.3,9.8 0 1,0 14.60,0 a7.3,9.8 0 1,0 -14.60,0 Z " fill="none" stroke="#a0a0a0" stroke-width="0.6"/><path d="M-8.6,-3 A8.6,11.6 0 0,1 2,-11.799999999999999" stroke="#fafafa" stroke-width="1.4" fill="none"/></g></g><g transform="translate(594.6,324.6) rotate(20.3)"><g transform="rotate(-10)"><path d="M-7.40,0.00 a7.4,12.0 0 1,0 14.80,0 a7.4,12.0 0 1,0 -14.80,0 Z M-2.60,0.00 a2.6,5.0 0 1,0 5.20,0 a2.6,5.0 0 1,0 -5.20,0 Z " fill="#d8d8d8" fill-rule="evenodd" stroke="#5e5e5e" stroke-width="0.95"/><path d="M-5.10,0.00 a5.1000000000000005,9.2 0 1,0 10.20,0 a5.1000000000000005,9.2 0 1,0 -10.20,0 Z " fill="none" stroke="#a0a0a0" stroke-width="0.6"/><path d="M-6.4,-3 A6.4,11.0 0 0,1 2,-11.2" stroke="#fafafa" stroke-width="1.4" fill="none"/></g></g><g transform="translate(589.8,339.6) rotate(20.4)"><g transform="rotate(18)"><path d="M-9.60,0.00 a9.6,12.6 0 1,0 19.20,0 a9.6,12.6 0 1,0 -19.20,0 Z M-3.60,0.00 a3.6,5.2 0 1,0 7.20,0 a3.6,5.2 0 1,0 -7.20,0 Z " fill="#d8d8d8" fill-rule="evenodd" stroke="#5e5e5e" stroke-width="0.95"/><path d="M-7.30,0.00 a7.3,9.8 0 1,0 14.60,0 a7.3,9.8 0 1,0 -14.60,0 Z " fill="none" stroke="#a0a0a0" stroke-width="0.6"/><path d="M-8.6,-3 A8.6,11.6 0 0,1 2,-11.799999999999999" stroke="#fafafa" stroke-width="1.4" fill="none"/></g></g><g transform="translate(578.0,371.0) rotate(20.1)"><path d="M-9.90,0.00 a9.9,11.6 0 1,0 19.80,0 a9.9,11.6 0 1,0 -19.80,0 Z M-5.90,0.00 a5.9,7.7 0 1,0 11.80,0 a5.9,7.7 0 1,0 -11.80,0 Z " fill="#d6d6d6" fill-rule="evenodd" stroke="#555555" stroke-width="1.05"/><path d="M-7.9,-3.5 A7.9,9.6 0 0,1 3.3,-9.1" stroke="#fafafa" stroke-width="1.7" fill="none"/><path d="M8.0,2 A8.0,9.6 0 0,1 -2,9.7" stroke="#a0a0a0" stroke-width="1.4" fill="none"/></g><g transform="translate(566.5,401.0) rotate(20.1)"><path d="M-9.90,0.00 a9.9,11.6 0 1,0 19.80,0 a9.9,11.6 0 1,0 -19.80,0 Z M-5.90,0.00 a5.9,7.7 0 1,0 11.80,0 a5.9,7.7 0 1,0 -11.80,0 Z " fill="#d6d6d6" fill-rule="evenodd" stroke="#555555" stroke-width="1.05"/><path d="M-7.9,-3.5 A7.9,9.6 0 0,1 3.3,-9.1" stroke="#fafafa" stroke-width="1.7" fill="none"/><path d="M8.0,2 A8.0,9.6 0 0,1 -2,9.7" stroke="#a0a0a0" stroke-width="1.4" fill="none"/></g><g transform="translate(555.0,431.5) rotate(21.8)"><path d="M-9.90,0.00 a9.9,11.6 0 1,0 19.80,0 a9.9,11.6 0 1,0 -19.80,0 Z M-5.90,0.00 a5.9,7.7 0 1,0 11.80,0 a5.9,7.7 0 1,0 -11.80,0 Z " fill="#d6d6d6" fill-rule="evenodd" stroke="#555555" stroke-width="1.05"/><path d="M-7.9,-3.5 A7.9,9.6 0 0,1 3.3,-9.1" stroke="#fafafa" stroke-width="1.7" fill="none"/><path d="M8.0,2 A8.0,9.6 0 0,1 -2,9.7" stroke="#a0a0a0" stroke-width="1.4" fill="none"/></g><g transform="translate(543.0,461.0) rotate(20.4)"><path d="M-9.90,0.00 a9.9,11.6 0 1,0 19.80,0 a9.9,11.6 0 1,0 -19.80,0 Z M-5.90,0.00 a5.9,7.7 0 1,0 11.80,0 a5.9,7.7 0 1,0 -11.80,0 Z " fill="#d6d6d6" fill-rule="evenodd" stroke="#555555" stroke-width="1.05"/><path d="M-7.9,-3.5 A7.9,9.6 0 0,1 3.3,-9.1" stroke="#fafafa" stroke-width="1.7" fill="none"/><path d="M8.0,2 A8.0,9.6 0 0,1 -2,9.7" stroke="#a0a0a0" stroke-width="1.4" fill="none"/></g><g transform="translate(532.0,493.0) rotate(23.3)"><path d="M-9.90,0.00 a9.9,11.6 0 1,0 19.80,0 a9.9,11.6 0 1,0 -19.80,0 Z M-5.90,0.00 a5.9,7.7 0 1,0 11.80,0 a5.9,7.7 0 1,0 -11.80,0 Z " fill="#d6d6d6" fill-rule="evenodd" stroke="#555555" stroke-width="1.05"/><path d="M-7.9,-3.5 A7.9,9.6 0 0,1 3.3,-9.1" stroke="#fafafa" stroke-width="1.7" fill="none"/><path d="M8.0,2 A8.0,9.6 0 0,1 -2,9.7" stroke="#a0a0a0" stroke-width="1.4" fill="none"/></g>
<path d="M513,503 L523,506 L520,545 L509,586 L501,592 Z" fill="#a4a4a4"/>
<path d="M516,505 L521,507 L518,545 L510,580" stroke="#6a6a6a" stroke-width="1" fill="none"/>
<ellipse cx="519" cy="519" rx="4.5" ry="7" transform="rotate(20 519 519)" fill="none" stroke="#707070" stroke-width="1.6"/>
<ellipse cx="519" cy="519" rx="4.5" ry="7" transform="rotate(20 519 519)" fill="none" stroke="#d8d8d8" stroke-width="0.8"/>
<ellipse cx="471" cy="514" rx="3.5" ry="6.5" transform="rotate(-15 471 514)" fill="none" stroke="#707070" stroke-width="1.6"/>
<ellipse cx="471" cy="514" rx="3.5" ry="6.5" transform="rotate(-15 471 514)" fill="none" stroke="#d8d8d8" stroke-width="0.8"/>
<path d="M473.5,503 L516.5,503 L502.5,585 C500,597 487,597 484.5,585 Z" fill="url(#bailg)" stroke="#858585" stroke-width="1"/>
<g filter="url(#soft)">
<path d="M482.5,510.5 C484,508.5 490,508.5 498,508.3 L511.5,508 L508.5,513.5 L500.5,514.5 L498.7,556 L497.1,560 L495.7,556 L494.7,515 L489,515 C486,515 484,513.5 482.5,510.5 Z" fill="#404040"/>
</g>
<rect x="476" y="492.5" width="43" height="10.5" rx="5" fill="url(#capg)" stroke="#8c8c8c" stroke-width="1"/>
<path d="M487,586 C490,580 497,580 500,586" stroke="#ffffff" stroke-width="2" fill="none"/>
<defs><pattern id="lace" x="0" y="0" width="6" height="6" patternUnits="userSpaceOnUse"><rect width="6" height="6" fill="#d4d4d4"/><circle cx="3" cy="3" r="2.3" fill="none" stroke="#787878" stroke-width="0.95"/></pattern><pattern id="lace2" x="0" y="0" width="6" height="5" patternUnits="userSpaceOnUse"><rect width="6" height="5" fill="#b0b0b0"/><circle cx="3" cy="2.5" r="2" fill="#e8e8e8" stroke="#6e6e6e" stroke-width="0.8"/></pattern></defs><rect x="394" y="704" width="204" height="200" rx="6" fill="url(#lace)"/><rect x="589" y="706" width="9.5" height="196" rx="3" fill="#a4a4a4"/><rect x="589" y="712" width="2" height="184" fill="#d4d4d4"/><rect x="453" y="717" width="4" height="176" fill="#e8e8e8"/><rect x="485" y="717" width="3" height="176" fill="#e4e4e4"/><rect x="555" y="717" width="8" height="176" fill="#dadada"/><rect x="420.5" y="717" width="7" height="176" fill="#bdbdbd"/><ellipse cx="424" cy="721.0" rx="3.2" ry="4.6" fill="#f4f4f4" stroke="#7a7a7a" stroke-width="0.8"/><ellipse cx="424" cy="733.6" rx="3.2" ry="4.6" fill="#f4f4f4" stroke="#7a7a7a" stroke-width="0.8"/><ellipse cx="424" cy="746.2" rx="3.2" ry="4.6" fill="#f4f4f4" stroke="#7a7a7a" stroke-width="0.8"/><ellipse cx="424" cy="758.8" rx="3.2" ry="4.6" fill="#f4f4f4" stroke="#7a7a7a" stroke-width="0.8"/><ellipse cx="424" cy="771.4" rx="3.2" ry="4.6" fill="#f4f4f4" stroke="#7a7a7a" stroke-width="0.8"/><ellipse cx="424" cy="784.0" rx="3.2" ry="4.6" fill="#f4f4f4" stroke="#7a7a7a" stroke-width="0.8"/><ellipse cx="424" cy="796.6" rx="3.2" ry="4.6" fill="#f4f4f4" stroke="#7a7a7a" stroke-width="0.8"/><ellipse cx="424" cy="809.2" rx="3.2" ry="4.6" fill="#f4f4f4" stroke="#7a7a7a" stroke-width="0.8"/><ellipse cx="424" cy="821.8" rx="3.2" ry="4.6" fill="#f4f4f4" stroke="#7a7a7a" stroke-width="0.8"/><ellipse cx="424" cy="834.4" rx="3.2" ry="4.6" fill="#f4f4f4" stroke="#7a7a7a" stroke-width="0.8"/><ellipse cx="424" cy="847.0" rx="3.2" ry="4.6" fill="#f4f4f4" stroke="#7a7a7a" stroke-width="0.8"/><ellipse cx="424" cy="859.6" rx="3.2" ry="4.6" fill="#f4f4f4" stroke="#7a7a7a" stroke-width="0.8"/><ellipse cx="424" cy="872.2" rx="3.2" ry="4.6" fill="#f4f4f4" stroke="#7a7a7a" stroke-width="0.8"/><ellipse cx="424" cy="884.8" rx="3.2" ry="4.6" fill="#f4f4f4" stroke="#7a7a7a" stroke-width="0.8"/><ellipse cx="424" cy="897.4" rx="3.2" ry="4.6" fill="#f4f4f4" stroke="#7a7a7a" stroke-width="0.8"/><rect x="486" y="717" width="7" height="176" fill="#b4b4b4"/><circle cx="489.5" cy="720.0" r="2.7" fill="#ececec" stroke="#707070" stroke-width="0.8"/><circle cx="489.5" cy="726.3" r="2.7" fill="#ececec" stroke="#707070" stroke-width="0.8"/><circle cx="489.5" cy="732.6" r="2.7" fill="#ececec" stroke="#707070" stroke-width="0.8"/><circle cx="489.5" cy="738.9" r="2.7" fill="#ececec" stroke="#707070" stroke-width="0.8"/><circle cx="489.5" cy="745.2" r="2.7" fill="#ececec" stroke="#707070" stroke-width="0.8"/><circle cx="489.5" cy="751.5" r="2.7" fill="#ececec" stroke="#707070" stroke-width="0.8"/><circle cx="489.5" cy="757.8" r="2.7" fill="#ececec" stroke="#707070" stroke-width="0.8"/><circle cx="489.5" cy="764.1" r="2.7" fill="#ececec" stroke="#707070" stroke-width="0.8"/><circle cx="489.5" cy="770.4" r="2.7" fill="#ececec" stroke="#707070" stroke-width="0.8"/><circle cx="489.5" cy="776.7" r="2.7" fill="#ececec" stroke="#707070" stroke-width="0.8"/><circle cx="489.5" cy="783.0" r="2.7" fill="#ececec" stroke="#707070" stroke-width="0.8"/><circle cx="489.5" cy="789.3" r="2.7" fill="#ececec" stroke="#707070" stroke-width="0.8"/><circle cx="489.5" cy="795.6" r="2.7" fill="#ececec" stroke="#707070" stroke-width="0.8"/><circle cx="489.5" cy="801.9" r="2.7" fill="#ececec" stroke="#707070" stroke-width="0.8"/><circle cx="489.5" cy="808.2" r="2.7" fill="#ececec" stroke="#707070" stroke-width="0.8"/><circle cx="489.5" cy="814.5" r="2.7" fill="#ececec" stroke="#707070" stroke-width="0.8"/><circle cx="489.5" cy="820.8" r="2.7" fill="#ececec" stroke="#707070" stroke-width="0.8"/><circle cx="489.5" cy="827.1" r="2.7" fill="#ececec" stroke="#707070" stroke-width="0.8"/><circle cx="489.5" cy="833.4" r="2.7" fill="#ececec" stroke="#707070" stroke-width="0.8"/><circle cx="489.5" cy="839.7" r="2.7" fill="#ececec" stroke="#707070" stroke-width="0.8"/><circle cx="489.5" cy="846.0" r="2.7" fill="#ececec" stroke="#707070" stroke-width="0.8"/><circle cx="489.5" cy="852.3" r="2.7" fill="#ececec" stroke="#707070" stroke-width="0.8"/><circle cx="489.5" cy="858.6" r="2.7" fill="#ececec" stroke="#707070" stroke-width="0.8"/><circle cx="489.5" cy="864.9" r="2.7" fill="#ececec" stroke="#707070" stroke-width="0.8"/><circle cx="489.5" cy="871.2" r="2.7" fill="#ececec" stroke="#707070" stroke-width="0.8"/><circle cx="489.5" cy="877.5" r="2.7" fill="#ececec" stroke="#707070" stroke-width="0.8"/><circle cx="489.5" cy="883.8" r="2.7" fill="#ececec" stroke="#707070" stroke-width="0.8"/><circle cx="489.5" cy="890.1" r="2.7" fill="#ececec" stroke="#707070" stroke-width="0.8"/><rect x="522" y="717" width="7" height="176" fill="url(#lace2)"/><circle cx="461" cy="722.0" r="3.4" fill="none" stroke="#7a7a7a" stroke-width="0.9"/><circle cx="461" cy="734.6" r="3.4" fill="none" stroke="#7a7a7a" stroke-width="0.9"/><circle cx="461" cy="747.2" r="3.4" fill="none" stroke="#7a7a7a" stroke-width="0.9"/><circle cx="461" cy="759.8" r="3.4" fill="none" stroke="#7a7a7a" stroke-width="0.9"/><circle cx="461" cy="772.4" r="3.4" fill="none" stroke="#7a7a7a" stroke-width="0.9"/><circle cx="461" cy="785.0" r="3.4" fill="none" stroke="#7a7a7a" stroke-width="0.9"/><circle cx="461" cy="797.6" r="3.4" fill="none" stroke="#7a7a7a" stroke-width="0.9"/><circle cx="461" cy="810.2" r="3.4" fill="none" stroke="#7a7a7a" stroke-width="0.9"/><circle cx="461" cy="822.8" r="3.4" fill="none" stroke="#7a7a7a" stroke-width="0.9"/><circle cx="461" cy="835.4" r="3.4" fill="none" stroke="#7a7a7a" stroke-width="0.9"/><circle cx="461" cy="848.0" r="3.4" fill="none" stroke="#7a7a7a" stroke-width="0.9"/><circle cx="461" cy="860.6" r="3.4" fill="none" stroke="#7a7a7a" stroke-width="0.9"/><circle cx="461" cy="873.2" r="3.4" fill="none" stroke="#7a7a7a" stroke-width="0.9"/><circle cx="461" cy="885.8" r="3.4" fill="none" stroke="#7a7a7a" stroke-width="0.9"/><circle cx="461" cy="898.4" r="3.4" fill="none" stroke="#7a7a7a" stroke-width="0.9"/><path d="M525.5,738.5 l2.2,3.5 l-2.2,3.5 l-2.2,-3.5 z" fill="#333"/><path d="M525.5,764.5 l2.2,3.5 l-2.2,3.5 l-2.2,-3.5 z" fill="#333"/><path d="M525.5,789.5 l2.2,3.5 l-2.2,3.5 l-2.2,-3.5 z" fill="#333"/><path d="M525.5,815.5 l2.2,3.5 l-2.2,3.5 l-2.2,-3.5 z" fill="#333"/><path d="M525.5,841.5 l2.2,3.5 l-2.2,3.5 l-2.2,-3.5 z" fill="#333"/><path d="M525.5,866.5 l2.2,3.5 l-2.2,3.5 l-2.2,-3.5 z" fill="#333"/><circle cx="408" cy="728" r="10" fill="#f4f4f4" stroke="#808080" stroke-width="1.1"/><path d="M401,726 L408,735 L415,726 Z M403.5,721.5 L412.5,721.5 L408,735 Z M400,731 L405,736" stroke="#a8a8a8" stroke-width="0.8" fill="none"/><circle cx="406.5" cy="726.5" r="3" fill="#fbfbfb"/><circle cx="408" cy="754" r="10" fill="#f4f4f4" stroke="#808080" stroke-width="1.1"/><path d="M401,752 L408,761 L415,752 Z M403.5,747.5 L412.5,747.5 L408,761 Z M400,757 L405,762" stroke="#a8a8a8" stroke-width="0.8" fill="none"/><circle cx="406.5" cy="752.5" r="3" fill="#fbfbfb"/><circle cx="408" cy="779.5" r="10" fill="#f4f4f4" stroke="#808080" stroke-width="1.1"/><path d="M401,777.5 L408,786.5 L415,777.5 Z M403.5,773.0 L412.5,773.0 L408,786.5 Z M400,782.5 L405,787.5" stroke="#a8a8a8" stroke-width="0.8" fill="none"/><circle cx="406.5" cy="778.0" r="3" fill="#fbfbfb"/><circle cx="408" cy="805.5" r="10" fill="#f4f4f4" stroke="#808080" stroke-width="1.1"/><path d="M401,803.5 L408,812.5 L415,803.5 Z M403.5,799.0 L412.5,799.0 L408,812.5 Z M400,808.5 L405,813.5" stroke="#a8a8a8" stroke-width="0.8" fill="none"/><circle cx="406.5" cy="804.0" r="3" fill="#fbfbfb"/><circle cx="408" cy="830.5" r="10" fill="#f4f4f4" stroke="#808080" stroke-width="1.1"/><path d="M401,828.5 L408,837.5 L415,828.5 Z M403.5,824.0 L412.5,824.0 L408,837.5 Z M400,833.5 L405,838.5" stroke="#a8a8a8" stroke-width="0.8" fill="none"/><circle cx="406.5" cy="829.0" r="3" fill="#fbfbfb"/><circle cx="408" cy="856" r="10" fill="#f4f4f4" stroke="#808080" stroke-width="1.1"/><path d="M401,854 L408,863 L415,854 Z M403.5,849.5 L412.5,849.5 L408,863 Z M400,859 L405,864" stroke="#a8a8a8" stroke-width="0.8" fill="none"/><circle cx="406.5" cy="854.5" r="3" fill="#fbfbfb"/><circle cx="408" cy="881" r="10" fill="#f4f4f4" stroke="#808080" stroke-width="1.1"/><path d="M401,879 L408,888 L415,879 Z M403.5,874.5 L412.5,874.5 L408,888 Z M400,884 L405,889" stroke="#a8a8a8" stroke-width="0.8" fill="none"/><circle cx="406.5" cy="879.5" r="3" fill="#fbfbfb"/><circle cx="439" cy="728" r="10" fill="#f4f4f4" stroke="#808080" stroke-width="1.1"/><path d="M432,726 L439,735 L446,726 Z M434.5,721.5 L443.5,721.5 L439,735 Z M431,731 L436,736" stroke="#a8a8a8" stroke-width="0.8" fill="none"/><circle cx="437.5" cy="726.5" r="3" fill="#fbfbfb"/><circle cx="439" cy="754" r="10" fill="#f4f4f4" stroke="#808080" stroke-width="1.1"/><path d="M432,752 L439,761 L446,752 Z M434.5,747.5 L443.5,747.5 L439,761 Z M431,757 L436,762" stroke="#a8a8a8" stroke-width="0.8" fill="none"/><circle cx="437.5" cy="752.5" r="3" fill="#fbfbfb"/><circle cx="439" cy="779.5" r="10" fill="#f4f4f4" stroke="#808080" stroke-width="1.1"/><path d="M432,777.5 L439,786.5 L446,777.5 Z M434.5,773.0 L443.5,773.0 L439,786.5 Z M431,782.5 L436,787.5" stroke="#a8a8a8" stroke-width="0.8" fill="none"/><circle cx="437.5" cy="778.0" r="3" fill="#fbfbfb"/><circle cx="439" cy="805.5" r="10" fill="#f4f4f4" stroke="#808080" stroke-width="1.1"/><path d="M432,803.5 L439,812.5 L446,803.5 Z M434.5,799.0 L443.5,799.0 L439,812.5 Z M431,808.5 L436,813.5" stroke="#a8a8a8" stroke-width="0.8" fill="none"/><circle cx="437.5" cy="804.0" r="3" fill="#fbfbfb"/><circle cx="439" cy="830.5" r="10" fill="#f4f4f4" stroke="#808080" stroke-width="1.1"/><path d="M432,828.5 L439,837.5 L446,828.5 Z M434.5,824.0 L443.5,824.0 L439,837.5 Z M431,833.5 L436,838.5" stroke="#a8a8a8" stroke-width="0.8" fill="none"/><circle cx="437.5" cy="829.0" r="3" fill="#fbfbfb"/><circle cx="439" cy="856" r="10" fill="#f4f4f4" stroke="#808080" stroke-width="1.1"/><path d="M432,854 L439,863 L446,854 Z M434.5,849.5 L443.5,849.5 L439,863 Z M431,859 L436,864" stroke="#a8a8a8" stroke-width="0.8" fill="none"/><circle cx="437.5" cy="854.5" r="3" fill="#fbfbfb"/><circle cx="439" cy="881" r="10" fill="#f4f4f4" stroke="#808080" stroke-width="1.1"/><path d="M432,879 L439,888 L446,879 Z M434.5,874.5 L443.5,874.5 L439,888 Z M431,884 L436,889" stroke="#a8a8a8" stroke-width="0.8" fill="none"/><circle cx="437.5" cy="879.5" r="3" fill="#fbfbfb"/><circle cx="472.4" cy="728" r="10" fill="#f4f4f4" stroke="#808080" stroke-width="1.1"/><path d="M465.4,726 L472.4,735 L479.4,726 Z M467.9,721.5 L476.9,721.5 L472.4,735 Z M464.4,731 L469.4,736" stroke="#a8a8a8" stroke-width="0.8" fill="none"/><circle cx="470.9" cy="726.5" r="3" fill="#fbfbfb"/><circle cx="472.4" cy="754" r="10" fill="#f4f4f4" stroke="#808080" stroke-width="1.1"/><path d="M465.4,752 L472.4,761 L479.4,752 Z M467.9,747.5 L476.9,747.5 L472.4,761 Z M464.4,757 L469.4,762" stroke="#a8a8a8" stroke-width="0.8" fill="none"/><circle cx="470.9" cy="752.5" r="3" fill="#fbfbfb"/><circle cx="472.4" cy="779.5" r="10" fill="#f4f4f4" stroke="#808080" stroke-width="1.1"/><path d="M465.4,777.5 L472.4,786.5 L479.4,777.5 Z M467.9,773.0 L476.9,773.0 L472.4,786.5 Z M464.4,782.5 L469.4,787.5" stroke="#a8a8a8" stroke-width="0.8" fill="none"/><circle cx="470.9" cy="778.0" r="3" fill="#fbfbfb"/><circle cx="472.4" cy="805.5" r="10" fill="#f4f4f4" stroke="#808080" stroke-width="1.1"/><path d="M465.4,803.5 L472.4,812.5 L479.4,803.5 Z M467.9,799.0 L476.9,799.0 L472.4,812.5 Z M464.4,808.5 L469.4,813.5" stroke="#a8a8a8" stroke-width="0.8" fill="none"/><circle cx="470.9" cy="804.0" r="3" fill="#fbfbfb"/><circle cx="472.4" cy="830.5" r="10" fill="#f4f4f4" stroke="#808080" stroke-width="1.1"/><path d="M465.4,828.5 L472.4,837.5 L479.4,828.5 Z M467.9,824.0 L476.9,824.0 L472.4,837.5 Z M464.4,833.5 L469.4,838.5" stroke="#a8a8a8" stroke-width="0.8" fill="none"/><circle cx="470.9" cy="829.0" r="3" fill="#fbfbfb"/><circle cx="472.4" cy="856" r="10" fill="#f4f4f4" stroke="#808080" stroke-width="1.1"/><path d="M465.4,854 L472.4,863 L479.4,854 Z M467.9,849.5 L476.9,849.5 L472.4,863 Z M464.4,859 L469.4,864" stroke="#a8a8a8" stroke-width="0.8" fill="none"/><circle cx="470.9" cy="854.5" r="3" fill="#fbfbfb"/><circle cx="472.4" cy="881" r="10" fill="#f4f4f4" stroke="#808080" stroke-width="1.1"/><path d="M465.4,879 L472.4,888 L479.4,879 Z M467.9,874.5 L476.9,874.5 L472.4,888 Z M464.4,884 L469.4,889" stroke="#a8a8a8" stroke-width="0.8" fill="none"/><circle cx="470.9" cy="879.5" r="3" fill="#fbfbfb"/><circle cx="506" cy="728" r="10" fill="#f4f4f4" stroke="#808080" stroke-width="1.1"/><path d="M499,726 L506,735 L513,726 Z M501.5,721.5 L510.5,721.5 L506,735 Z M498,731 L503,736" stroke="#a8a8a8" stroke-width="0.8" fill="none"/><circle cx="504.5" cy="726.5" r="3" fill="#fbfbfb"/><circle cx="506" cy="754" r="10" fill="#f4f4f4" stroke="#808080" stroke-width="1.1"/><path d="M499,752 L506,761 L513,752 Z M501.5,747.5 L510.5,747.5 L506,761 Z M498,757 L503,762" stroke="#a8a8a8" stroke-width="0.8" fill="none"/><circle cx="504.5" cy="752.5" r="3" fill="#fbfbfb"/><circle cx="506" cy="779.5" r="10" fill="#f4f4f4" stroke="#808080" stroke-width="1.1"/><path d="M499,777.5 L506,786.5 L513,777.5 Z M501.5,773.0 L510.5,773.0 L506,786.5 Z M498,782.5 L503,787.5" stroke="#a8a8a8" stroke-width="0.8" fill="none"/><circle cx="504.5" cy="778.0" r="3" fill="#fbfbfb"/><circle cx="506" cy="805.5" r="10" fill="#f4f4f4" stroke="#808080" stroke-width="1.1"/><path d="M499,803.5 L506,812.5 L513,803.5 Z M501.5,799.0 L510.5,799.0 L506,812.5 Z M498,808.5 L503,813.5" stroke="#a8a8a8" stroke-width="0.8" fill="none"/><circle cx="504.5" cy="804.0" r="3" fill="#fbfbfb"/><circle cx="506" cy="830.5" r="10" fill="#f4f4f4" stroke="#808080" stroke-width="1.1"/><path d="M499,828.5 L506,837.5 L513,828.5 Z M501.5,824.0 L510.5,824.0 L506,837.5 Z M498,833.5 L503,838.5" stroke="#a8a8a8" stroke-width="0.8" fill="none"/><circle cx="504.5" cy="829.0" r="3" fill="#fbfbfb"/><circle cx="506" cy="856" r="10" fill="#f4f4f4" stroke="#808080" stroke-width="1.1"/><path d="M499,854 L506,863 L513,854 Z M501.5,849.5 L510.5,849.5 L506,863 Z M498,859 L503,864" stroke="#a8a8a8" stroke-width="0.8" fill="none"/><circle cx="504.5" cy="854.5" r="3" fill="#fbfbfb"/><circle cx="506" cy="881" r="10" fill="#f4f4f4" stroke="#808080" stroke-width="1.1"/><path d="M499,879 L506,888 L513,879 Z M501.5,874.5 L510.5,874.5 L506,888 Z M498,884 L503,889" stroke="#a8a8a8" stroke-width="0.8" fill="none"/><circle cx="504.5" cy="879.5" r="3" fill="#fbfbfb"/><circle cx="540" cy="728" r="10" fill="#f4f4f4" stroke="#808080" stroke-width="1.1"/><path d="M533,726 L540,735 L547,726 Z M535.5,721.5 L544.5,721.5 L540,735 Z M532,731 L537,736" stroke="#a8a8a8" stroke-width="0.8" fill="none"/><circle cx="538.5" cy="726.5" r="3" fill="#fbfbfb"/><circle cx="540" cy="754" r="10" fill="#f4f4f4" stroke="#808080" stroke-width="1.1"/><path d="M533,752 L540,761 L547,752 Z M535.5,747.5 L544.5,747.5 L540,761 Z M532,757 L537,762" stroke="#a8a8a8" stroke-width="0.8" fill="none"/><circle cx="538.5" cy="752.5" r="3" fill="#fbfbfb"/><circle cx="540" cy="779.5" r="10" fill="#f4f4f4" stroke="#808080" stroke-width="1.1"/><path d="M533,777.5 L540,786.5 L547,777.5 Z M535.5,773.0 L544.5,773.0 L540,786.5 Z M532,782.5 L537,787.5" stroke="#a8a8a8" stroke-width="0.8" fill="none"/><circle cx="538.5" cy="778.0" r="3" fill="#fbfbfb"/><circle cx="540" cy="805.5" r="10" fill="#f4f4f4" stroke="#808080" stroke-width="1.1"/><path d="M533,803.5 L540,812.5 L547,803.5 Z M535.5,799.0 L544.5,799.0 L540,812.5 Z M532,808.5 L537,813.5" stroke="#a8a8a8" stroke-width="0.8" fill="none"/><circle cx="538.5" cy="804.0" r="3" fill="#fbfbfb"/><circle cx="540" cy="830.5" r="10" fill="#f4f4f4" stroke="#808080" stroke-width="1.1"/><path d="M533,828.5 L540,837.5 L547,828.5 Z M535.5,824.0 L544.5,824.0 L540,837.5 Z M532,833.5 L537,838.5" stroke="#a8a8a8" stroke-width="0.8" fill="none"/><circle cx="538.5" cy="829.0" r="3" fill="#fbfbfb"/><circle cx="540" cy="856" r="10" fill="#f4f4f4" stroke="#808080" stroke-width="1.1"/><path d="M533,854 L540,863 L547,854 Z M535.5,849.5 L544.5,849.5 L540,863 Z M532,859 L537,864" stroke="#a8a8a8" stroke-width="0.8" fill="none"/><circle cx="538.5" cy="854.5" r="3" fill="#fbfbfb"/><circle cx="540" cy="881" r="10" fill="#f4f4f4" stroke="#808080" stroke-width="1.1"/><path d="M533,879 L540,888 L547,879 Z M535.5,874.5 L544.5,874.5 L540,888 Z M532,884 L537,889" stroke="#a8a8a8" stroke-width="0.8" fill="none"/><circle cx="538.5" cy="879.5" r="3" fill="#fbfbfb"/><circle cx="576.6" cy="728" r="10" fill="#f4f4f4" stroke="#808080" stroke-width="1.1"/><path d="M569.6,726 L576.6,735 L583.6,726 Z M572.1,721.5 L581.1,721.5 L576.6,735 Z M568.6,731 L573.6,736" stroke="#a8a8a8" stroke-width="0.8" fill="none"/><circle cx="575.1" cy="726.5" r="3" fill="#fbfbfb"/><circle cx="576.6" cy="754" r="10" fill="#f4f4f4" stroke="#808080" stroke-width="1.1"/><path d="M569.6,752 L576.6,761 L583.6,752 Z M572.1,747.5 L581.1,747.5 L576.6,761 Z M568.6,757 L573.6,762" stroke="#a8a8a8" stroke-width="0.8" fill="none"/><circle cx="575.1" cy="752.5" r="3" fill="#fbfbfb"/><circle cx="576.6" cy="779.5" r="10" fill="#f4f4f4" stroke="#808080" stroke-width="1.1"/><path d="M569.6,777.5 L576.6,786.5 L583.6,777.5 Z M572.1,773.0 L581.1,773.0 L576.6,786.5 Z M568.6,782.5 L573.6,787.5" stroke="#a8a8a8" stroke-width="0.8" fill="none"/><circle cx="575.1" cy="778.0" r="3" fill="#fbfbfb"/><circle cx="576.6" cy="805.5" r="10" fill="#f4f4f4" stroke="#808080" stroke-width="1.1"/><path d="M569.6,803.5 L576.6,812.5 L583.6,803.5 Z M572.1,799.0 L581.1,799.0 L576.6,812.5 Z M568.6,808.5 L573.6,813.5" stroke="#a8a8a8" stroke-width="0.8" fill="none"/><circle cx="575.1" cy="804.0" r="3" fill="#fbfbfb"/><circle cx="576.6" cy="830.5" r="10" fill="#f4f4f4" stroke="#808080" stroke-width="1.1"/><path d="M569.6,828.5 L576.6,837.5 L583.6,828.5 Z M572.1,824.0 L581.1,824.0 L576.6,837.5 Z M568.6,833.5 L573.6,838.5" stroke="#a8a8a8" stroke-width="0.8" fill="none"/><circle cx="575.1" cy="829.0" r="3" fill="#fbfbfb"/><circle cx="576.6" cy="856" r="10" fill="#f4f4f4" stroke="#808080" stroke-width="1.1"/><path d="M569.6,854 L576.6,863 L583.6,854 Z M572.1,849.5 L581.1,849.5 L576.6,863 Z M568.6,859 L573.6,864" stroke="#a8a8a8" stroke-width="0.8" fill="none"/><circle cx="575.1" cy="854.5" r="3" fill="#fbfbfb"/><circle cx="576.6" cy="881" r="10" fill="#f4f4f4" stroke="#808080" stroke-width="1.1"/><path d="M569.6,879 L576.6,888 L583.6,879 Z M572.1,874.5 L581.1,874.5 L576.6,888 Z M568.6,884 L573.6,889" stroke="#a8a8a8" stroke-width="0.8" fill="none"/><circle cx="575.1" cy="879.5" r="3" fill="#fbfbfb"/><rect x="394" y="712" width="3" height="184" fill="#9e9e9e"/><path d="M394,717 L394,710 Q394,704 400,704 L592,704 Q598,704 598,710 L598,717 Z" fill="#d4d4d4"/><rect x="394" y="714.5" width="196" height="2.5" fill="#a4a4a4"/><rect x="398" y="706" width="186" height="3" fill="#e8e8e8"/><path d="M394,894 L598,894 L598,898 Q598,904 592,904 L400,904 Q394,904 394,898 Z" fill="#d0d0d0"/><rect x="394" y="893" width="196" height="1.5" fill="#9a9a9a"/><rect x="394.5" y="704.5" width="203" height="199" rx="6" fill="none" stroke="#868686" stroke-width="1"/><rect x="498.6" y="487.5" width="13.0" height="4" fill="#000"/><rect x="518.8" y="487.5" width="13.0" height="4" fill="#000"/><rect x="539.0" y="487.5" width="13.0" height="4" fill="#000"/><rect x="559.2" y="487.5" width="13.0" height="4" fill="#000"/><rect x="579.4" y="487.5" width="13.0" height="4" fill="#000"/><rect x="599.6" y="487.5" width="13.0" height="4" fill="#000"/><rect x="619.8" y="487.5" width="13.0" height="4" fill="#000"/><rect x="640.0" y="487.5" width="13.0" height="4" fill="#000"/><rect x="660.2" y="487.5" width="13.0" height="4" fill="#000"/><rect x="636.2" y="459.5" width="3.6" height="13.0" fill="#000"/><rect x="636.2" y="479.7" width="3.6" height="13.0" fill="#000"/><rect x="636.2" y="499.8" width="3.6" height="13.0" fill="#000"/><rect x="636.2" y="520.0" width="3.6" height="13.0" fill="#000"/><rect x="636.2" y="540.2" width="3.6" height="13.0" fill="#000"/><rect x="636.2" y="560.3" width="3.6" height="13.0" fill="#000"/><rect x="636.2" y="580.5" width="3.6" height="13.0" fill="#000"/><rect x="636.2" y="600.7" width="3.6" height="13.0" fill="#000"/><rect x="636.2" y="620.9" width="3.6" height="13.0" fill="#000"/><rect x="636.2" y="641.0" width="3.6" height="13.0" fill="#000"/><rect x="636.2" y="661.2" width="3.6" height="13.0" fill="#000"/><rect x="636.2" y="681.4" width="3.6" height="13.0" fill="#000"/><rect x="636.2" y="701.5" width="3.6" height="13.0" fill="#000"/><rect x="636.2" y="721.7" width="3.6" height="13.0" fill="#000"/><rect x="636.2" y="741.9" width="3.6" height="13.0" fill="#000"/><rect x="636.2" y="762.0" width="3.6" height="13.0" fill="#000"/><rect x="636.2" y="782.2" width="3.6" height="13.0" fill="#000"/><rect x="636.2" y="802.4" width="3.6" height="13.0" fill="#000"/><rect x="636.2" y="822.6" width="3.6" height="13.0" fill="#000"/><rect x="636.2" y="842.7" width="3.6" height="13.0" fill="#000"/><rect x="636.2" y="862.9" width="3.6" height="13.0" fill="#000"/><rect x="636.2" y="883.1" width="3.6" height="13.0" fill="#000"/><rect x="636.2" y="903.2" width="3.6" height="13.0" fill="#000"/><rect x="636.2" y="923.4" width="3.6" height="13.0" fill="#000"/><rect x="636.2" y="943.6" width="3.6" height="13.0" fill="#000"/><rect x="636.2" y="963.7" width="3.6" height="13.0" fill="#000"/><rect x="477.6" y="906.6" width="13.0" height="4" fill="#000"/><rect x="497.8" y="906.6" width="13.0" height="4" fill="#000"/><rect x="518.0" y="906.6" width="13.0" height="4" fill="#000"/><rect x="538.2" y="906.6" width="13.0" height="4" fill="#000"/><rect x="558.4" y="906.6" width="13.0" height="4" fill="#000"/><rect x="578.6" y="906.6" width="13.0" height="4" fill="#000"/><rect x="598.8" y="906.6" width="13.0" height="4" fill="#000"/><rect x="619.0" y="906.6" width="13.0" height="4" fill="#000"/><rect x="639.2" y="906.6" width="13.0" height="4" fill="#000"/><rect x="659.4" y="906.6" width="13.0" height="4" fill="#000"/><rect x="352.8" y="944.0" width="13.0" height="4" fill="#000"/><rect x="373.0" y="944.0" width="13.0" height="4" fill="#000"/><rect x="393.2" y="944.0" width="13.0" height="4" fill="#000"/><rect x="413.4" y="944.0" width="13.0" height="4" fill="#000"/><rect x="433.6" y="944.0" width="13.0" height="4" fill="#000"/><rect x="453.8" y="944.0" width="13.0" height="4" fill="#000"/><rect x="474.0" y="944.0" width="13.0" height="4" fill="#000"/><rect x="494.2" y="944.0" width="13.0" height="4" fill="#000"/><rect x="514.4" y="944.0" width="13.0" height="4" fill="#000"/><rect x="534.6" y="944.0" width="13.0" height="4" fill="#000"/><rect x="554.8" y="944.0" width="13.0" height="4" fill="#000"/><rect x="575.0" y="944.0" width="13.0" height="4" fill="#000"/><rect x="595.2" y="944.0" width="13.0" height="4" fill="#000"/><rect x="615.4" y="944.0" width="13.0" height="4" fill="#000"/><rect x="635.6" y="944.0" width="13.0" height="4" fill="#000"/><rect x="655.8" y="944.0" width="13.0" height="4" fill="#000"/><rect x="386.4" y="758.0" width="3.6" height="13.0" fill="#000"/><rect x="386.4" y="778.2" width="3.6" height="13.0" fill="#000"/><rect x="386.4" y="798.3" width="3.6" height="13.0" fill="#000"/><rect x="386.4" y="818.5" width="3.6" height="13.0" fill="#000"/><rect x="386.4" y="838.7" width="3.6" height="13.0" fill="#000"/><rect x="386.4" y="858.8" width="3.6" height="13.0" fill="#000"/><rect x="386.4" y="879.0" width="3.6" height="13.0" fill="#000"/><rect x="386.4" y="899.2" width="3.6" height="13.0" fill="#000"/><rect x="386.4" y="919.4" width="3.6" height="13.0" fill="#000"/><rect x="386.4" y="939.5" width="3.6" height="13.0" fill="#000"/><rect x="386.4" y="959.7" width="3.6" height="13.0" fill="#000"/><rect x="625.8" y="479" width="20.3" height="20.3" fill="#000"/><rect x="626" y="898.8" width="20.3" height="20.3" fill="#000"/><rect x="626" y="936" width="20.3" height="20.3" fill="#000"/><rect x="376.6" y="934.5" width="20.3" height="20.3" fill="#000"/><rect x="72" y="776.6" width="336.5" height="3.8" fill="#000"/><rect x="624.5" y="266" width="145.5" height="3.2" fill="#000"/><path d="M47.6,233.4 C101.45,302.95 186.87,375.14 339.8,230.2" stroke="#000" stroke-width="2.1" fill="none"/><g font-family="Liberation Sans, sans-serif" fill="#000" opacity="0.995"><text x="39.8" y="222.2" font-size="26.7" textLength="304.8" lengthAdjust="spacingAndGlyphs">43cm/16.9in+5cm/1.96in</text><text x="652.6" y="228.5" font-size="27.5" textLength="84.9" lengthAdjust="spacingAndGlyphs">copper</text><text x="652.5" y="256.0" font-size="27.5" textLength="62.5" lengthAdjust="spacingAndGlyphs">медь</text><text x="88.3" y="738.8" font-size="26.5" textLength="144.2" lengthAdjust="spacingAndGlyphs">cubic zircon</text><text x="88.0" y="764.4" font-size="26.5" textLength="281.6" lengthAdjust="spacingAndGlyphs">кубический цирконий</text><text x="658.3" y="696.2" font-size="26.7" textLength="156.7" lengthAdjust="spacingAndGlyphs">2.2cm/0.86in</text><text x="731.5" y="955.5" font-size="28.0" textLength="199.1" lengthAdjust="spacingAndGlyphs">Weight/Bec:4.5g</text><text x="422.0" y="984.2" font-size="27.6" textLength="156.5" lengthAdjust="spacingAndGlyphs">1.1cm/0.43in</text></g></svg></body></html>
